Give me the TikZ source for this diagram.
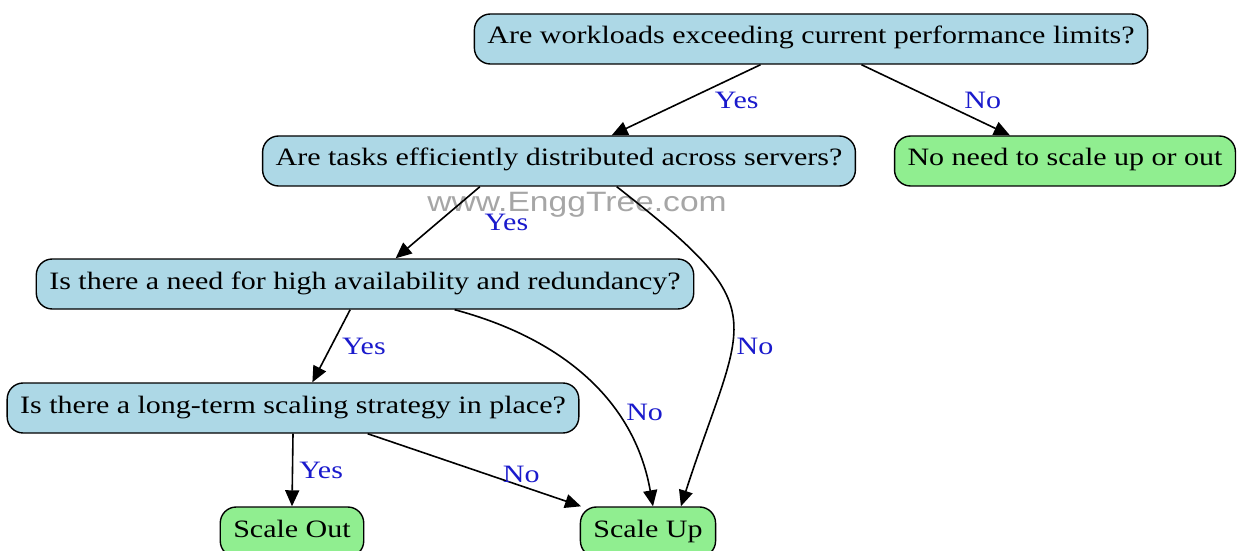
\documentclass[tikz,border=0pt]{standalone}
\usepackage{fontspec}
\setmainfont{Liberation Serif}[FakeStretch=1.2]
\newfontfamily\wmfont{Liberation Sans}[FakeStretch=1.2]
\usepackage{tikz}
\usetikzlibrary{arrows.meta,positioning}

\definecolor{qblue}{HTML}{ADD8E6}
\definecolor{endgreen}{HTML}{90EE90}
\definecolor{lblblue}{HTML}{1A1ACC}

\begin{document}
\begin{tikzpicture}[x=0.5pt,y=-0.5pt,
  question/.style={draw,line width=0.7pt,rounded corners=8pt,fill=qblue,minimum height=25pt,inner xsep=6.5pt,
    text height=0.7em,text depth=0.2em,font=\fontsize{12.5}{14}\selectfont},
  outcome/.style={question,fill=endgreen},
  lbl/.style={text=lblblue,inner sep=1pt,font=\fontsize{12.5}{14}\selectfont},
  arr/.style={-{Triangle[length=8pt,width=7pt]},line width=0.8pt}]
\useasboundingbox (0,0) rectangle (1238,551);

% watermark
\node[text=black!35,anchor=base,font=\wmfont\fontsize{14}{16}\selectfont] (wm) at (577,212) {www.EnggTree.com};

% questions
\node[question] (q1) at (811,39) {Are workloads exceeding current performance limits?};
\node[question] (q2) at (559,161) {Are tasks efficiently distributed across servers?};
\node[question] (q3) at (365,284) {Is there a need for high availability and redundancy?};
\node[question] (q4) at (293,408) {Is there a long-term scaling strategy in place?};

% outcomes
\node[outcome] (nn) at (1065,161) {No need to scale up or out};
\node[outcome] (so) at (292,532) {Scale Out};
\node[outcome] (su) at (648,532) {Scale Up};

\draw[arr] (q1.-153) -- (q2.26) node[lbl,midway,right=13pt] {Yes};
\draw[arr] (q1.-27) -- (nn.155) node[lbl,midway,right=13pt] {No};
\draw[arr] (q2.-162) -- (q3.40) node[lbl,midway,right=22pt] {Yes};
\draw[arr] (q2.-24) to[out=-38,in=72,looseness=1.6] node[lbl,pos=0.6,right=1pt] {No} (su.38);
\draw[arr] (q3.-120) -- (q4.53) node[lbl,midway,right=4pt] {Yes};
\draw[arr] (q3.-16) to[out=-15,in=100] node[lbl,pos=0.66,right=4pt] {No} (su.79);
\draw[arr] (q4.south) -- (so.north) node[lbl,midway,right=2pt] {Yes};
\draw[arr] (q4.-19) -- (su.159) node[lbl,pos=0.72,above] {No};
\end{tikzpicture}
\end{document}
